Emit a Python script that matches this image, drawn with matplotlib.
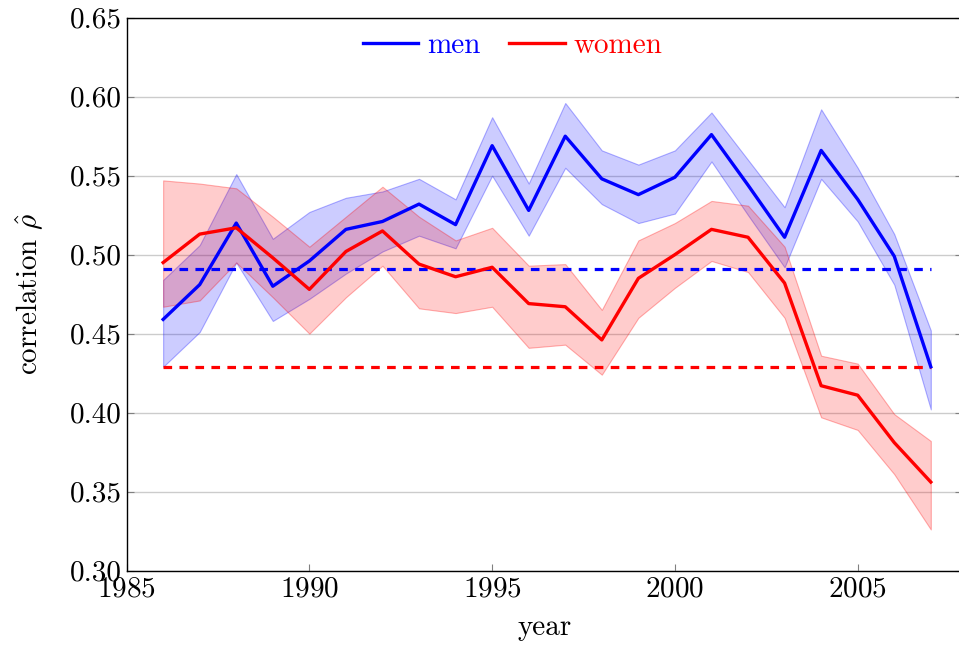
import matplotlib
matplotlib.use("Agg")
import matplotlib.pyplot as plt
import numpy as np

plt.rcParams["font.family"] = "serif"
plt.rcParams["font.serif"] = ["cmr10"]
plt.rcParams["mathtext.fontset"] = "cm"
plt.rcParams["axes.formatter.use_mathtext"] = True

# Data.
years = np.arange(1986, 2008)

men = [0.459, 0.481, 0.520, 0.480, 0.496, 0.516, 0.521, 0.532, 0.519, 0.569,
       0.528, 0.575, 0.548, 0.538, 0.549, 0.576, 0.544, 0.511, 0.566, 0.535,
       0.499, 0.429]
men_upper = [0.484, 0.506, 0.551, 0.510, 0.527, 0.536, 0.540, 0.548, 0.535, 0.587,
             0.545, 0.596, 0.566, 0.557, 0.566, 0.590, 0.560, 0.530, 0.592, 0.555,
             0.513, 0.452]
men_lower = [0.429, 0.451, 0.495, 0.458, 0.472, 0.488, 0.502, 0.512, 0.504, 0.550,
             0.512, 0.555, 0.532, 0.520, 0.526, 0.559, 0.525, 0.492, 0.548, 0.521,
             0.481, 0.402]

women = [0.495, 0.513, 0.517, 0.498, 0.478, 0.502, 0.515, 0.494, 0.486, 0.492,
         0.469, 0.467, 0.446, 0.485, 0.500, 0.516, 0.511, 0.482, 0.417, 0.411,
         0.381, 0.356]
women_upper = [0.547, 0.545, 0.542, 0.524, 0.505, 0.524, 0.543, 0.524, 0.509, 0.517,
               0.493, 0.494, 0.465, 0.509, 0.520, 0.534, 0.531, 0.505, 0.436, 0.431,
               0.399, 0.382]
women_lower = [0.467, 0.471, 0.495, 0.473, 0.450, 0.473, 0.493, 0.466, 0.463, 0.467,
               0.441, 0.443, 0.424, 0.460, 0.479, 0.496, 0.489, 0.460, 0.397, 0.389,
               0.361, 0.326]

men_mean = 0.491
women_mean = 0.429

x_ticks = [1985, 1990, 1995, 2000, 2005]
y_ticks = [0.30, 0.35, 0.40, 0.45, 0.50, 0.55, 0.60, 0.65]

fig = plt.figure(figsize=(9.59, 6.45), dpi=100)
# Right spine sits just past the image edge, as in the reference.
ax = fig.add_axes([0.132, 0.1155, 0.871, 0.857])

# Confidence bands.
ax.fill_between(years, men_lower, men_upper, facecolor=(0, 0, 1, 0.2),
                edgecolor=(0, 0, 1, 0.3), linewidth=0.8)
ax.fill_between(years, women_lower, women_upper, facecolor=(1, 0, 0, 0.2),
                edgecolor=(1, 0, 0, 0.3), linewidth=0.8)

# Means.
ax.plot([years[0], years[-1]], [men_mean, men_mean], color="blue", lw=2.3,
        dashes=(2.7, 2.3))
ax.plot([years[0], years[-1]], [women_mean, women_mean], color="red", lw=2.3,
        dashes=(2.7, 2.3))

# Series.
ax.plot(years, men, color="blue", lw=2.4, label="men")
ax.plot(years, women, color="red", lw=2.4, label="women")

ax.set_xlim(1985, 2007.85)
ax.set_ylim(0.30, 0.65)
ax.set_xticks(x_ticks)
ax.set_yticks(y_ticks)
ax.set_yticklabels(["%.2f" % v for v in y_ticks])
ax.tick_params(direction="in", labelsize=21, length=5, color="0.5",
               top=False, right=True)
ax.tick_params(axis="x", pad=4)
ax.grid(axis="y", color="0.8", lw=1.0)
ax.set_axisbelow(True)
for s in ax.spines.values():
    s.set_linewidth(1.0)

ax.set_xlabel("year", fontsize=21, labelpad=9)
ax.set_ylabel(r"correlation $\hat{\rho}$", fontsize=21, labelpad=18)

leg = ax.legend(loc="center", bbox_to_anchor=(0.462, 0.949), ncol=2,
                frameon=False, fontsize=21, handlelength=1.9,
                handletextpad=0.3, columnspacing=1.0, borderpad=0)
for text, c in zip(leg.get_texts(), ["blue", "red"]):
    text.set_color(c)

fig.savefig("out.png", dpi=100)
